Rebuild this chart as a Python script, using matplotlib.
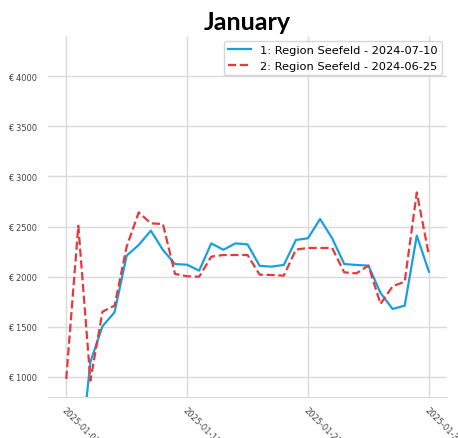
import matplotlib
matplotlib.use("Agg")
import matplotlib.pyplot as plt
import matplotlib.dates as mdates
import numpy as np
import pandas as pd

dates = pd.date_range("2025-01-01", "2025-01-31", freq="D")
tick_dates = pd.to_datetime(["2025-01-01", "2025-01-11", "2025-01-21", "2025-01-31"])

# 1: Region Seefeld - 2024-07-10
seefeld_0710 = [0, 0, 1150, 1505, 1645, 2210, 2316, 2459, 2266, 2126,
                2119, 2060, 2332, 2268, 2332, 2322, 2108, 2100, 2117, 2366,
                2383, 2575, 2383, 2126, 2117, 2110, 1837, 1678, 1711, 2409,
                2050]
# 2: Region Seefeld - 2024-06-25
seefeld_0625 = [980, 2508, 963, 1651, 1711, 2300, 2641, 2532, 2525, 2027,
                2004, 2000, 2200, 2216, 2216, 2216, 2020, 2017, 2010, 2270,
                2286, 2286, 2286, 2043, 2033, 2110, 1728, 1904, 1950, 2840,
                2216]

series_labels = ["1: Region Seefeld - 2024-07-10", "2: Region Seefeld - 2024-06-25"]

fig = plt.figure(figsize=(4.58, 4.39), dpi=100)
ax = fig.add_axes([0.105, 0.0934, 0.871, 0.8223])

ax.plot(dates, seefeld_0710, color="#1a9fdc", lw=1.6, label=series_labels[0])
ax.plot(dates, seefeld_0625, color="#e5383f", lw=1.6, ls="--", label=series_labels[1])

ax.set_ylim(800, 4400)
ax.set_yticks(np.arange(1000, 4001, 500))
ax.yaxis.set_major_formatter(plt.FuncFormatter(lambda v, p: f"€ {v:.0f}"))
ax.set_xticks(tick_dates)
ax.xaxis.set_major_formatter(mdates.DateFormatter("%Y-%m-%d"))
ax.xaxis.set_minor_locator(plt.NullLocator())

ax.grid(True, color="#dadada", lw=1)
ax.set_axisbelow(True)
ax.tick_params(axis="y", length=0, labelsize=6, labelcolor="#444444", pad=8)
ax.tick_params(axis="x", length=0, labelsize=6, labelcolor="#444444", pad=6)
for lbl in ax.get_xticklabels():
    lbl.set_rotation(-45)
    lbl.set_ha("left")
    lbl.set_va("top")
    lbl.set_rotation_mode("anchor")

for side in ["left", "right", "top"]:
    ax.spines[side].set_visible(False)
ax.spines["bottom"].set_color("#dadada")

ax.set_title("January", fontsize=18, fontweight="bold", family="Lato", pad=5)
ax.legend(loc="upper right", fontsize=8.2, frameon=True, framealpha=0.8,
          edgecolor="#cccccc", fancybox=True, borderaxespad=0.4)

fig.savefig("out.png", dpi=100)
